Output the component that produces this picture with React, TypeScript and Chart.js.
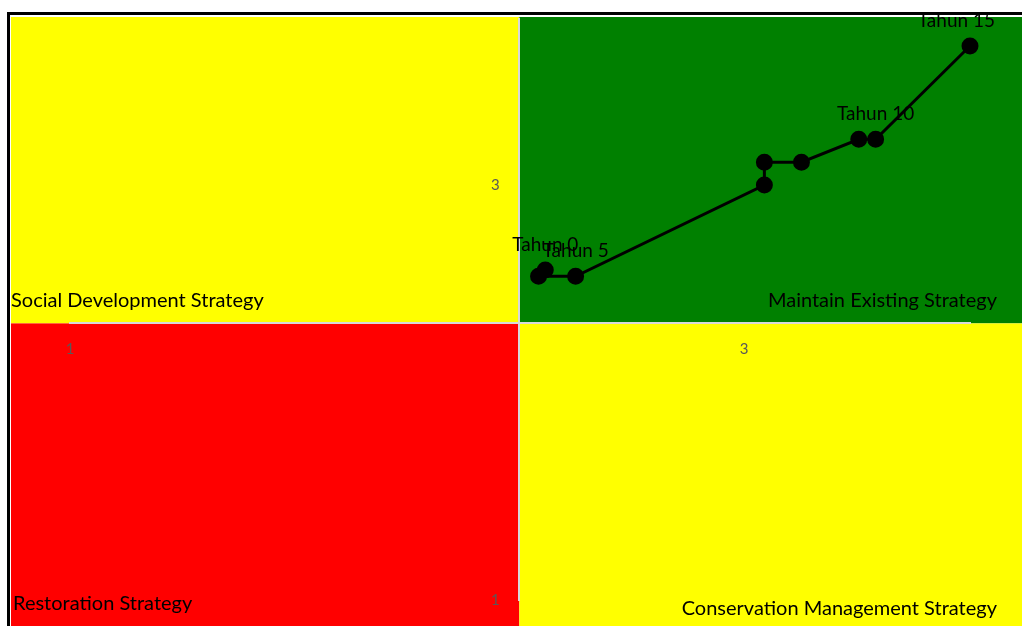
import React, { useEffect, useRef } from 'react';
import { Chart, registerables } from 'chart.js';

Chart.register(...registerables);

// ---- data ----
const pointX = [2.41, 2.39, 2.5, 3.06, 3.06, 3.17, 3.34, 3.39, 3.67];
const pointY = [2.59, 2.56, 2.56, 3.0, 3.11, 3.11, 3.22, 3.22, 3.67];
const pointLabels = ['Tahun 0', '', 'Tahun 5', '', '', '', '', 'Tahun 10', 'Tahun 15'];
const xTickValues = [1, 3];
const yTickValues = [1, 3];
const quadrantLabels = [
  'Social Development Strategy',
  'Maintain Existing Strategy',
  'Restoration Strategy',
  'Conservation Management Strategy',
];
const quadrantColors = ['#FFFF00', '#008000', '#FF0000', '#FFFF00'];
const axisCross = 2.333;
const xRange = [1, 3.67];
const yRange = [1, 3.8];

const FONT = 'Lato, "Open Sans", sans-serif';

const quadrantPlugin = {
  id: 'quadrants',
  beforeDraw(chart: any) {
    const { ctx, width, height } = chart;
    const xs = chart.scales.x;
    const ys = chart.scales.y;
    const cx = xs.getPixelForValue(axisCross);
    const cy = ys.getPixelForValue(axisCross);
    ctx.save();
    ctx.fillStyle = '#FFFFFF';
    ctx.fillRect(0, 0, width, height);
    // outer frame
    ctx.fillStyle = '#000000';
    ctx.fillRect(7, 12, width, height);
    ctx.fillStyle = '#FFFFFF';
    ctx.fillRect(10, 15, width, height);
    const L = 11;
    const T = 17;
    ctx.fillStyle = quadrantColors[0];
    ctx.fillRect(L, T, cx - L, cy - T);
    ctx.fillStyle = quadrantColors[1];
    ctx.fillRect(cx, T, width - cx, cy - T);
    ctx.fillStyle = quadrantColors[2];
    ctx.fillRect(L, cy, cx - L, height - cy);
    ctx.fillStyle = quadrantColors[3];
    ctx.fillRect(cx, cy, width - cx, height - cy);
    ctx.restore();
  },
  afterDraw(chart: any) {
    const { ctx, chartArea } = chart;
    const xs = chart.scales.x;
    const ys = chart.scales.y;
    const cx = xs.getPixelForValue(axisCross);
    const cy = ys.getPixelForValue(axisCross);
    const yBottom = ys.getPixelForValue(yRange[0]);
    ctx.save();
    // y tick labels (left of the crossing axis)
    ctx.fillStyle = '#595959';
    ctx.font = '15px ' + FONT;
    ctx.textAlign = 'center';
    ctx.textBaseline = 'middle';
    yTickValues.forEach((v) => {
      ctx.fillText(String(v), cx - 24, ys.getPixelForValue(v));
    });
    ctx.fillStyle = '#000000';
    ctx.textBaseline = 'alphabetic';
    ctx.font = '20px ' + FONT;
    // quadrant labels
    ctx.textAlign = 'left';
    ctx.fillText(quadrantLabels[0], 11, cy - 16);
    ctx.fillText(quadrantLabels[2], 13, yBottom + 10);
    ctx.textAlign = 'right';
    ctx.fillText(quadrantLabels[1], chartArea.right + 27, cy - 16);
    ctx.fillText(quadrantLabels[3], chartArea.right + 27, yBottom + 15);
    // point labels
    ctx.font = '19px ' + FONT;
    ctx.textAlign = 'center';
    pointLabels.forEach((lab, i) => {
      if (!lab) return;
      let px = xs.getPixelForValue(pointX[i]);
      const py = ys.getPixelForValue(pointY[i]);
      const w = ctx.measureText(lab).width;
      const maxRight = chartArea.right + 25;
      if (px + w / 2 > maxRight) px = maxRight - w / 2;
      ctx.fillText(lab, px, py - 19);
    });
    ctx.restore();
  },
};

export default function App() {
  const ref = useRef<HTMLCanvasElement | null>(null);
  useEffect(() => {
    if (!ref.current) return;
    const chart = new Chart(ref.current, {
      type: 'scatter',
      data: {
        datasets: [
          {
            data: pointX.map((x, i) => ({ x, y: pointY[i] })),
            showLine: true,
            clip: false,
            borderColor: '#000000',
            backgroundColor: '#000000',
            borderWidth: 3,
            pointRadius: 7,
            pointHoverRadius: 7,
          },
        ],
      },
      options: {
        animation: false,
        responsive: false,
        devicePixelRatio: 1,
        layout: { padding: { left: 70, right: 52, top: 19, bottom: 26 } },
        plugins: { legend: { display: false }, tooltip: { enabled: false } },
        scales: {
          x: {
            type: 'linear',
            min: xRange[0],
            max: xRange[1],
            position: { y: axisCross } as any,
            afterBuildTicks: (s: any) => {
              s.ticks = xTickValues.map((v) => ({ value: v }));
            },
            grid: { display: false, drawTicks: false },
            border: { display: true, color: '#D9D9D9', width: 2 },
            ticks: { padding: 17, color: '#595959', font: { family: FONT, size: 15 } },
          },
          y: {
            type: 'linear',
            min: yRange[0],
            max: yRange[1],
            position: { x: axisCross } as any,
            afterBuildTicks: (s: any) => {
              s.ticks = yTickValues.map((v) => ({ value: v }));
            },
            grid: { display: false, drawTicks: false },
            border: { display: true, color: '#D9D9D9', width: 2 },
            ticks: { display: false },
          },
        },
      },
      plugins: [quadrantPlugin],
    });
    return () => chart.destroy();
  }, []);
  return (
    <div style={{ position: 'fixed', left: 0, top: 0, width: 1022, height: 626 }}>
      <canvas ref={ref} width={1022} height={626} />
    </div>
  );
}
